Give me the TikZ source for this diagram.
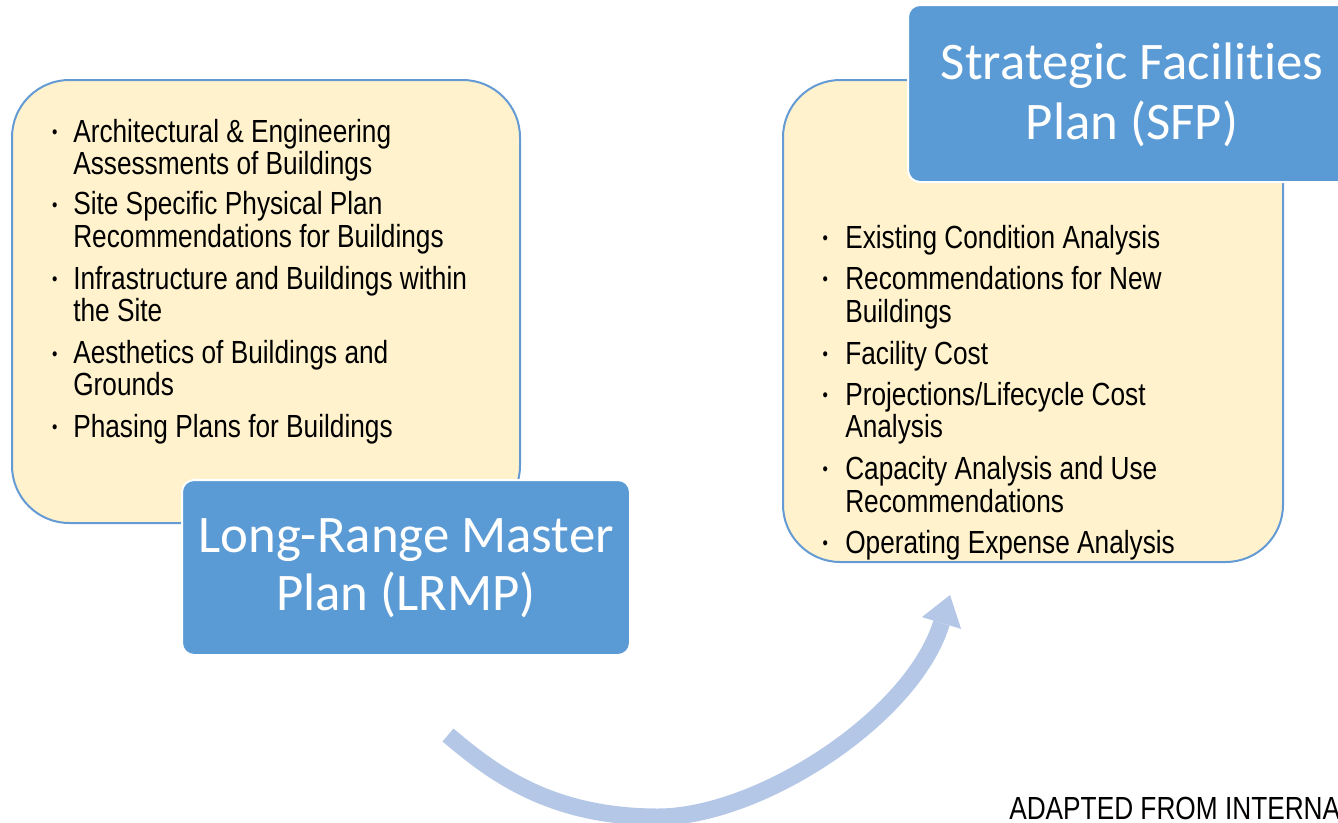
\documentclass[tikz,border=0pt]{standalone}
\usepackage{fontspec}
\setmainfont{Liberation Sans}
\newfontfamily\titlefont[Ligatures={NoCommon,NoDiscretionary,NoContextual}]{Carlito}
\newfontfamily\narrowfont[FakeStretch=0.82]{Liberation Sans}
\definecolor{paleyellow}{HTML}{FFF2CC}
\definecolor{boxblue}{HTML}{5B9BD5}
\definecolor{edgeblue}{RGB}{100,155,213}
\definecolor{arrowblue}{HTML}{B4C7E7}
\begin{document}
\begin{tikzpicture}[x=0.75pt,y=-0.75pt,
  listbox/.style={rectangle,fill=paleyellow,draw=edgeblue,line width=1.5pt,rounded corners=43pt,inner sep=0pt},
  titlebox/.style={rectangle,fill=boxblue,draw=white,line width=1.5pt,rounded corners=9pt,inner sep=0pt},
  titletext/.style={font=\titlefont\fontsize{39.6}{44}\selectfont,text=white,anchor=base,inner sep=0pt},
  itemtext/.style={font=\narrowfont\fontsize{24}{24}\selectfont,anchor=base west,inner sep=0pt},
  bulletmark/.style={font=\narrowfont\fontsize{14}{14}\selectfont,anchor=base west,inner sep=0pt},
  bigarrow/.style={draw=arrowblue,line width=12.75pt},
  arrowhead/.style={fill=arrowblue}
]
\useasboundingbox (0,0) rectangle (1338,822);
\fill[white] (0,0) rectangle (1338,822);

% boxes
\node[listbox,minimum width=381pt,minimum height=332.25pt] (lrmplist) at (266,301.5) {};
\node[titlebox,minimum width=336pt,minimum height=131.25pt] (lrmp) at (406,567.5) {};
\node[listbox,minimum width=375pt,minimum height=361.5pt] (sfplist) at (1033,321) {};
\node[titlebox,minimum width=336pt,minimum height=132.75pt] (sfp) at (1132,93.5) {};

% titles
\node[titletext] (lrmp1) at (406,552) {Long-Range Master};
\node[titletext] (lrmp2) at (406,610) {Plan (LRMP)};
\node[titletext] (sfp1) at (1132,79) {Strategic Facilities};
\node[titletext] (sfp2) at (1132,139) {Plan (SFP)};

% left list
\foreach \yy [count=\i] in {142,214.5,289,363.5,437}
  \node[bulletmark] (lb\i) at (51.9,\yy-3.3) {•};
\node[itemtext] (l1) at (73,142) {Architectural \& Engineering};
\node[itemtext] (l2) at (73,174) {Assessments of Buildings};
\node[itemtext] (l3) at (73,214.5) {Site Specific Physical Plan};
\node[itemtext] (l4) at (73,247) {Recommendations for Buildings};
\node[itemtext] (l5) at (73,289) {Infrastructure and Buildings within};
\node[itemtext] (l6) at (73,321.5) {the Site};
\node[itemtext] (l7) at (73,363.5) {Aesthetics of Buildings and};
\node[itemtext] (l8) at (73,395.5) {Grounds};
\node[itemtext] (l9) at (73,437) {Phasing Plans for Buildings};

% right list
\foreach \yy [count=\i] in {248,289,364,405,479,553}
  \node[bulletmark] (rb\i) at (822.4,\yy-3.3) {•};
\node[itemtext] (r1) at (845,248) {Existing Condition Analysis};
\node[itemtext] (r2) at (845,289) {Recommendations for New};
\node[itemtext] (r3) at (845,322) {Buildings};
\node[itemtext] (r4) at (845,364) {Facility Cost};
\node[itemtext] (r5) at (845,405) {Projections/Lifecycle Cost};
\node[itemtext] (r6) at (845,437) {Analysis};
\node[itemtext] (r7) at (845,479) {Capacity Analysis and Use};
\node[itemtext] (r8) at (845,512) {Recommendations};
\node[itemtext] (r9) at (845,553) {Operating Expense Analysis};

% curved arrow
\coordinate (arrstart) at (448,735);
\coordinate (arrlow) at (658,817);
\coordinate (arrend) at (941.5,623);
\coordinate (arrtip) at (950,595);
\coordinate (arrleft) at (921.9,617.1);
\coordinate (arrright) at (961.1,628.9);
\draw[bigarrow] (arrstart) .. controls (490,770.5) and (548,817) .. (arrlow)
  .. controls (758,817) and (912,718.7) .. (arrend);
\fill[arrowhead] (arrleft) -- (arrtip) -- (arrright) -- cycle;

% source note
\node[itemtext] (src) at (1009,819) {ADAPTED FROM INTERNA};
\end{tikzpicture}
\end{document}
